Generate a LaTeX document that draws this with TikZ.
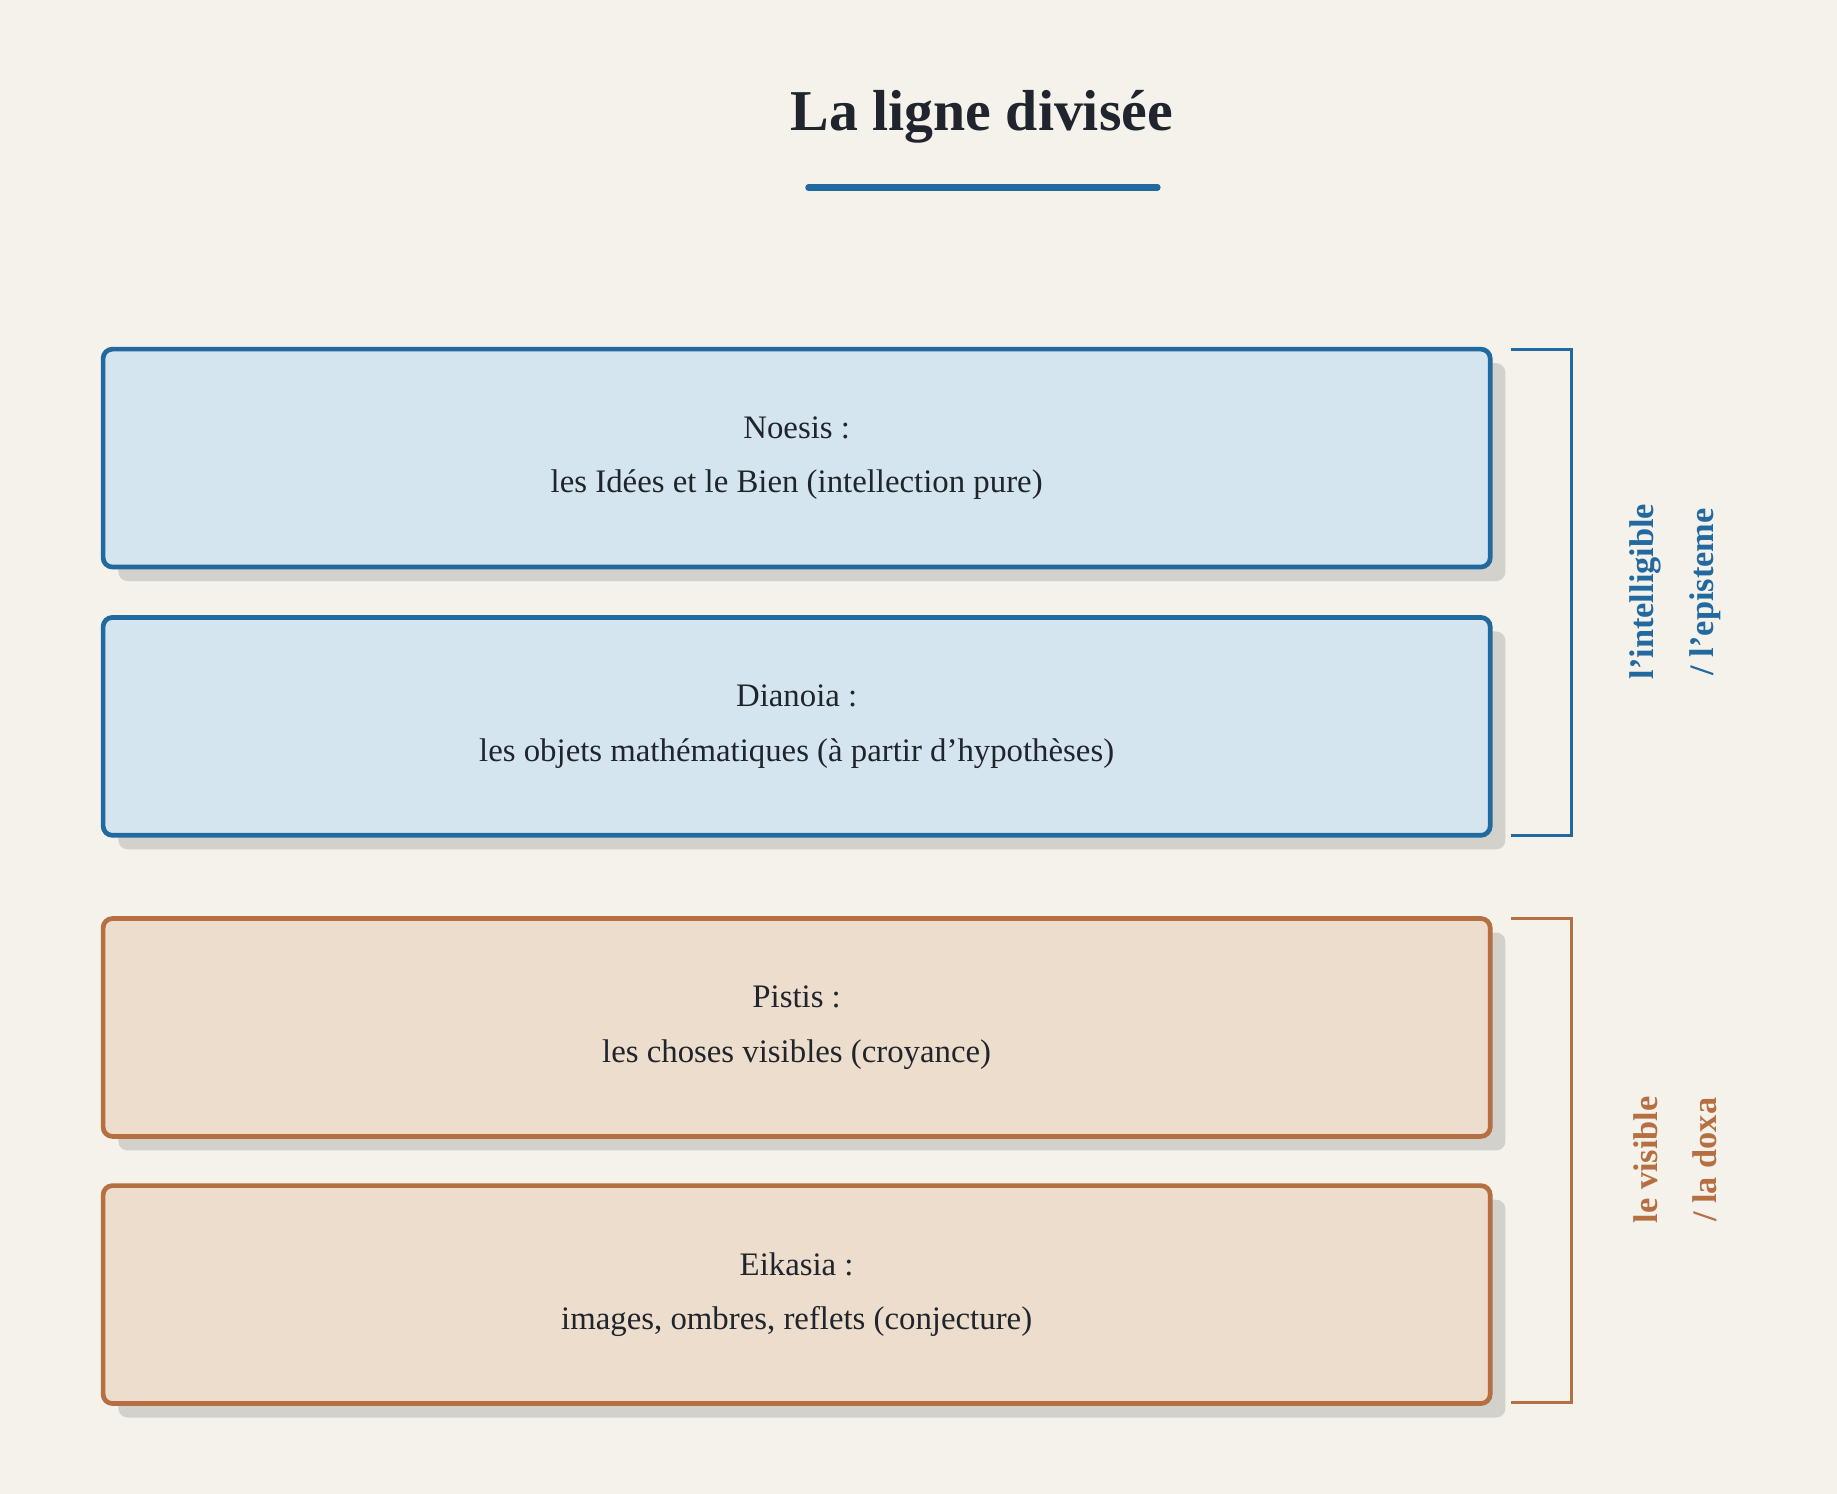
\documentclass[tikz,border=0pt]{standalone}
\usepackage{fontspec}
\setmainfont{Liberation Serif}
\definecolor{bg}{HTML}{F5F2EC}
\definecolor{blu}{HTML}{21699F}
\definecolor{bluf}{HTML}{D5E5EF}
\definecolor{ora}{HTML}{B56F40}
\definecolor{oraf}{HTML}{EDDDCD}
\definecolor{shd}{HTML}{D3D1CC}
\definecolor{ink}{HTML}{20242C}
\begin{document}
\begin{tikzpicture}[x=0.75pt,y=-0.75pt,
  box/.style={draw=#1,line width=3pt,rounded corners=6pt,minimum width=1184*0.75pt,minimum height=186*0.75pt,align=center,
    font=\fontsize{21}{35}\selectfont,text=ink,inner sep=0pt},
  shadow/.style={fill=shd,rounded corners=6pt},
  brk/.style={draw=#1,line width=2pt},
  side/.style={rotate=90,align=center,font=\fontsize{22}{38}\selectfont\bfseries,text=#1}]
\fill[bg] (0,0) rectangle (1568,1275);
\useasboundingbox (0,0) rectangle (1568,1275);
\node[font=\fontsize{37}{40}\selectfont\bfseries,text=ink] (title) at (838,100) {La ligne divisée};
\draw[blu,line width=4pt,line cap=round] (690,160) coordinate (u1) -- (988,160) coordinate (u2);
\foreach \y in {391,620,877,1105}{\fill[shadow] (101,\y-81) rectangle (1285,\y+105);}
\node[box=blu,fill=bluf] (noesis) at (680,391) {Noesis :\\les Idées et le Bien (intellection pure)};
\node[box=blu,fill=bluf] (dianoia) at (680,620) {Dianoia :\\les objets mathématiques (à partir d'hypothèses)};
\node[box=ora,fill=oraf] (pistis) at (680,877) {Pistis :\\les choses visibles (croyance)};
\node[box=ora,fill=oraf] (eikasia) at (680,1105) {Eikasia :\\images, ombres, reflets (conjecture)};
\draw[brk=blu] (1290,298) -- (1341,298) -- (1341,713) -- (1290,713);
\draw[brk=ora] (1290,784) -- (1341,784) -- (1341,1197) -- (1290,1197);
\node[side=blu] (intel) at (1430,505) {l'intelligible\\/ l'episteme};
\node[side=ora] (vis) at (1430,990) {le visible\\/ la doxa};
\end{tikzpicture}
\end{document}
